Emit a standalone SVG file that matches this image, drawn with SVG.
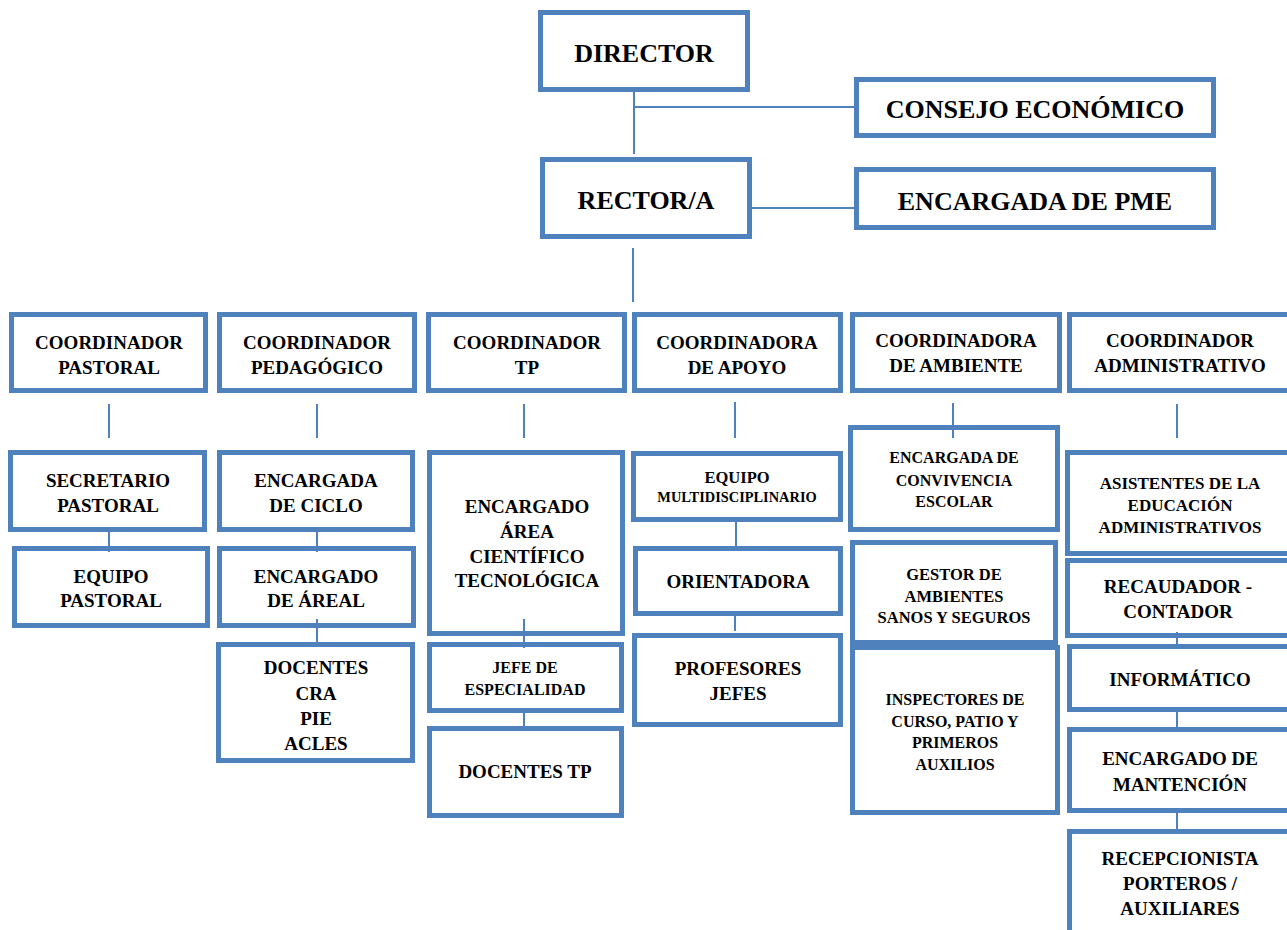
<svg xmlns="http://www.w3.org/2000/svg" width="1287" height="930" viewBox="0 0 1287 930">
<style>
.b{fill:#fff;stroke:#4F81BD;stroke-width:5}
.c{stroke:#4F81BD;stroke-width:2;fill:none}
text{font-family:"Liberation Serif","Times New Roman",serif;font-weight:bold;fill:#000;text-anchor:middle}
.t{font-size:26px}
.m{font-size:19px}
.s{font-size:16px}
</style>
<rect width="1287" height="930" fill="#fff"/>
<g id="director"><rect class="b" x="540.5" y="12.5" width="207" height="77"/><text class="t" x="644" y="62">DIRECTOR</text></g>
<g id="consejo"><rect class="b" x="856.5" y="79.5" width="357" height="56"/><text class="t" x="1035" y="118">CONSEJO ECONÓMICO</text></g>
<g id="rector"><rect class="b" x="542.5" y="159.5" width="207" height="77"/><text class="t" x="646" y="209">RECTOR/A</text></g>
<g id="pme"><rect class="b" x="856.5" y="169.5" width="357" height="58"/><text class="t" x="1035" y="210">ENCARGADA DE PME</text></g>

<g id="coord-pastoral"><rect class="b" x="11.5" y="314.5" width="194" height="76"/><text class="m" x="109" y="349">COORDINADOR</text><text class="m" x="109" y="374">PASTORAL</text></g>
<g id="coord-pedagogico"><rect class="b" x="219.5" y="314.5" width="195" height="76"/><text class="m" x="317" y="349">COORDINADOR</text><text class="m" x="317" y="374">PEDAGÓGICO</text></g>
<g id="coord-tp"><rect class="b" x="428.5" y="314.5" width="196" height="76"/><text class="m" x="527" y="349">COORDINADOR</text><text class="m" x="527" y="374">TP</text></g>
<g id="coord-apoyo"><rect class="b" x="634.5" y="314.5" width="206" height="76"/><text class="m" x="737" y="349">COORDINADORA</text><text class="m" x="737" y="374">DE APOYO</text></g>
<g id="coord-ambiente"><rect class="b" x="852.5" y="314.5" width="207" height="76"/><text class="m" x="956" y="347">COORDINADORA</text><text class="m" x="956" y="372">DE AMBIENTE</text></g>
<g id="coord-admin"><rect class="b" x="1069.5" y="314.5" width="240" height="76"/><text class="m" x="1180" y="347">COORDINADOR</text><text class="m" x="1180" y="372">ADMINISTRATIVO</text></g>

<g id="secretario-pastoral"><rect class="b" x="10.5" y="452.5" width="194" height="77"/><text class="m" x="108" y="487">SECRETARIO</text><text class="m" x="108" y="512">PASTORAL</text></g>
<g id="equipo-pastoral"><rect class="b" x="14.5" y="548.5" width="193" height="77"/><text class="m" x="111" y="583">EQUIPO</text><text class="m" x="111" y="607">PASTORAL</text></g>

<g id="encargada-ciclo"><rect class="b" x="219.5" y="452.5" width="193" height="77"/><text class="m" x="316" y="487">ENCARGADA</text><text class="m" x="316" y="512">DE CICLO</text></g>
<g id="encargado-areal"><rect class="b" x="219.5" y="548.5" width="194" height="77"/><text class="m" x="316" y="583">ENCARGADO</text><text class="m" x="316" y="607">DE ÁREAL</text></g>
<g id="docentes"><rect class="b" x="218.5" y="644.5" width="194" height="116"/><text class="m" x="316" y="674">DOCENTES</text><text class="m" x="316" y="700">CRA</text><text class="m" x="316" y="725">PIE</text><text class="m" x="316" y="750">ACLES</text></g>

<g id="encargado-cientifico"><rect class="b" x="429.5" y="452.5" width="193" height="181"/><text class="m" x="527" y="513">ENCARGADO</text><text class="m" x="527" y="538">ÁREA</text><text class="m" x="527" y="563">CIENTÍFICO</text><text class="m" x="527" y="587">TECNOLÓGICA</text></g>
<g id="jefe-especialidad"><rect class="b" x="429.5" y="644.5" width="192" height="66"/><text class="s" x="525" y="673">JEFE DE</text><text class="s" x="525" y="695">ESPECIALIDAD</text></g>
<g id="docentes-tp"><rect class="b" x="429.5" y="728.5" width="192" height="87"/><text class="m" x="525" y="778">DOCENTES TP</text></g>

<g id="equipo-multi"><rect class="b" x="633.5" y="453.5" width="207" height="66"/><text x="737" y="483" style="font-size:16.5px">EQUIPO</text><text x="737" y="502" style="font-size:14.4px">MULTIDISCIPLINARIO</text></g>
<g id="orientadora"><rect class="b" x="635.5" y="548.5" width="205" height="65"/><text class="m" x="738" y="588">ORIENTADORA</text></g>
<g id="profesores-jefes"><rect class="b" x="634.5" y="635.5" width="206" height="89"/><text class="m" x="738" y="675">PROFESORES</text><text class="m" x="738" y="700">JEFES</text></g>

<g id="convivencia"><rect class="b" x="850.5" y="427.5" width="207" height="102"/><text class="s" x="954" y="463">ENCARGADA DE</text><text class="s" x="954" y="486">CONVIVENCIA</text><text class="s" x="954" y="507">ESCOLAR</text></g>
<g id="gestor"><rect class="b" x="852.5" y="542.5" width="203" height="100"/><text x="954" y="580" style="font-size:16.5px">GESTOR DE</text><text x="954" y="602" style="font-size:16.5px">AMBIENTES</text><text x="954" y="623" style="font-size:16.5px">SANOS Y SEGUROS</text></g>
<g id="inspectores"><rect class="b" x="852.5" y="647.5" width="205" height="165"/><text class="s" x="955" y="705">INSPECTORES DE</text><text class="s" x="955" y="727">CURSO, PATIO Y</text><text class="s" x="955" y="748">PRIMEROS</text><text class="s" x="955" y="770">AUXILIOS</text></g>

<g id="asistentes"><rect class="b" x="1067.5" y="452.5" width="240" height="101"/><text x="1180" y="489" style="font-size:17px">ASISTENTES DE LA</text><text x="1180" y="511" style="font-size:17px">EDUCACIÓN</text><text x="1180" y="533" style="font-size:17px">ADMINISTRATIVOS</text></g>
<g id="recaudador"><rect class="b" x="1067.5" y="560.5" width="240" height="75"/><text class="m" x="1178" y="593">RECAUDADOR -</text><text class="m" x="1178" y="618">CONTADOR</text></g>
<g id="informatico"><rect class="b" x="1069.5" y="646.5" width="240" height="63"/><text class="m" x="1180" y="686">INFORMÁTICO</text></g>
<g id="mantencion"><rect class="b" x="1069.5" y="729.5" width="240" height="81"/><text class="m" x="1180" y="765">ENCARGADO DE</text><text class="m" x="1180" y="791">MANTENCIÓN</text></g>
<g id="recepcionista"><rect class="b" x="1069.5" y="831.5" width="240" height="120"/><text class="m" x="1180" y="865">RECEPCIONISTA</text><text class="m" x="1180" y="890">PORTEROS /</text><text class="m" x="1180" y="915">AUXILIARES</text></g>

<g id="connectors" class="c">
<path d="M634 92V154M634 107H854M752 208H854M633 248V302"/>
<path d="M109 404V438M317 404V438M524 404V438M735 402V438M953 403V438M1177 404V438"/>
<path d="M109 527V552M317 527V552M317 619V647M524 619V648M524 713V729M736 521V548M735 615V631"/>
<path d="M1177 632V648M1177 712V729M1177 813V831"/>
</g>
</svg>
